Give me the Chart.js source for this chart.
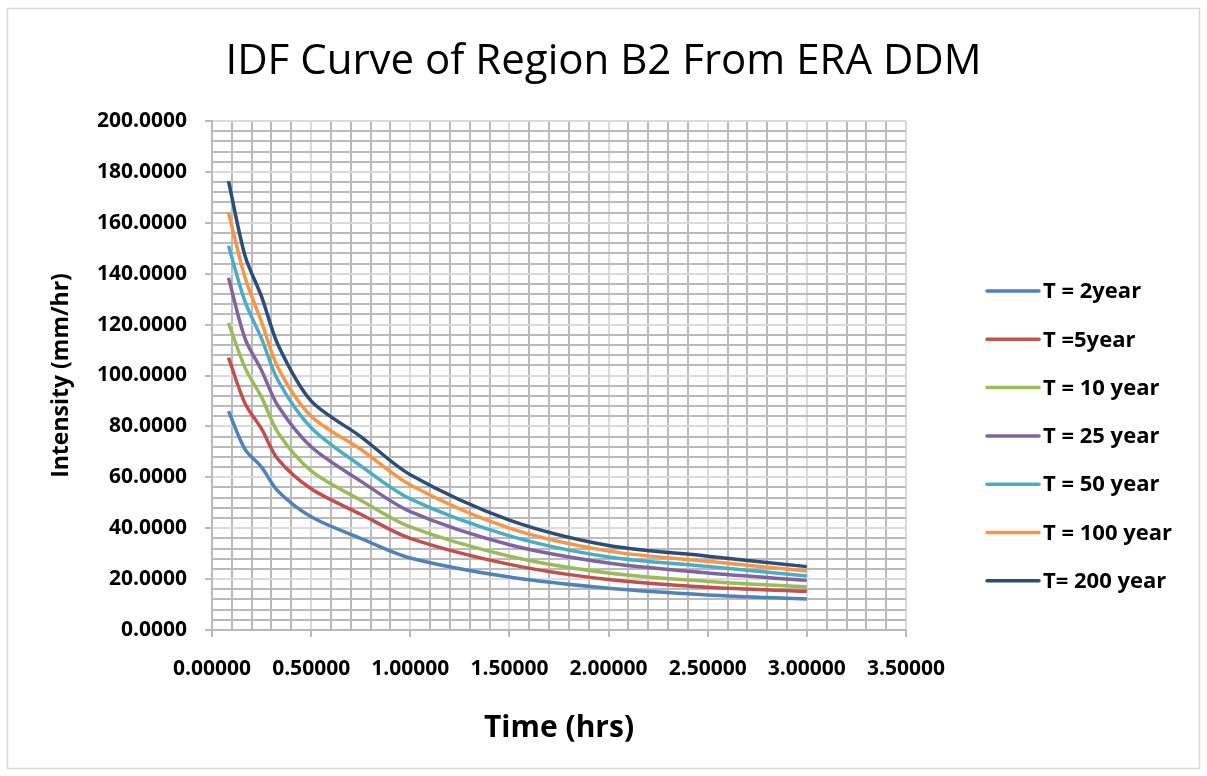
<!DOCTYPE html>
<html lang="en">
<head>
<meta charset="utf-8">
<title>IDF Curve of Region B2 From ERA DDM</title>
<script src="https://cdn.jsdelivr.net/npm/chart.js@4.4.0/dist/chart.umd.min.js"></script>
<style>
  html, body { margin: 0; padding: 0; background: #fff; }
  #contenitore { width: 1207px; height: 776px; }
</style>
</head>
<body>
<div id="contenitore"><canvas id="graficoIDF"></canvas></div>
<script>
// Durate in ore (5 min ... 3 ore)
const durate = [0.0833, 0.1667, 0.25, 0.3333, 0.5, 0.75, 1.0, 1.5, 2.0, 2.5, 3.0];

// Intensità (mm/hr) per periodo di ritorno
const intensitaT2 = [86.0, 71.0, 64.0, 54.5, 44.5, 36.0, 28.3, 20.8, 16.4, 13.8, 12.2];
const intensitaT5 = [107.0, 89.0, 79.0, 67.0, 55.5, 45.5, 36.0, 25.8, 19.8, 16.8, 15.2];
const intensitaT10 = [120.7, 103.0, 91.5, 77.5, 62.5, 51.0, 40.5, 29.0, 22.4, 19.1, 17.0];
const intensitaT25 = [138.4, 114.5, 102.0, 88.0, 72.0, 58.5, 46.5, 33.5, 26.3, 22.4, 19.5];
const intensitaT50 = [151.0, 129.0, 114.5, 98.0, 79.5, 64.5, 51.5, 37.0, 28.7, 25.0, 21.2];
const intensitaT100 = [164.0, 138.5, 121.0, 103.0, 84.0, 71.0, 57.0, 40.0, 31.0, 27.0, 23.2];
const intensitaT200 = [176.4, 147.0, 131.0, 112.0, 90.0, 76.0, 61.0, 43.2, 33.2, 29.0, 24.9];

const etichetteSerie = ['T = 2year', 'T =5year', 'T = 10 year', 'T = 25 year', 'T = 50 year', 'T = 100 year', 'T= 200 year'];
const coloriSerie = ['#4F81BD', '#C0504D', '#9BBB59', '#8064A2', '#4BACC6', '#F79646', '#2C4D75'];

// Tick principali (con etichetta); quelli secondari sono solo griglia
const tickPrincipaliX = [0, 0.5, 1.0, 1.5, 2.0, 2.5, 3.0, 3.5];
const tickPrincipaliY = [0, 20, 40, 60, 80, 100, 120, 140, 160, 180, 200];

const tutteLeSerie = [intensitaT2, intensitaT5, intensitaT10, intensitaT25, intensitaT50, intensitaT100, intensitaT200];

// Funzione per capire se un valore cade su un tick principale
function isPrincipale(valore, lista) {
    return lista.some(t => Math.abs(t - valore) < 1e-6);
}

const coloreGrigliaMinore = '#bababa';
const coloreGrigliaMaggiore = '#dadada';

// Cornice esterna e sfondo bianco
const cornice = {
    id: 'cornice',
    beforeDraw(chart) {
        const ctx = chart.ctx;
        ctx.save();
        ctx.fillStyle = '#ffffff';
        ctx.fillRect(0, 0, chart.width, chart.height);
        ctx.strokeStyle = '#d9d9d9';
        ctx.lineWidth = 1.5;
        ctx.strokeRect(7.5, 8.5, 1192, 760);
        ctx.restore();
    }
};

// Legenda a destra disegnata a mano
const legendaDestra = {
    id: 'legendaDestra',
    afterDraw(chart) {
        const ctx = chart.ctx;
        ctx.save();
        chart.data.datasets.forEach((ds, i) => {
            const y = 291 + i * 48.3;
            ctx.strokeStyle = ds.borderColor;
            ctx.lineWidth = 3.5;
            ctx.lineCap = 'round';
            ctx.beginPath();
            ctx.moveTo(987, y);
            ctx.lineTo(1039, y);
            ctx.stroke();
            ctx.fillStyle = '#000000';
            ctx.font = 'bold 22px "Open Sans"';
            ctx.textBaseline = 'middle';
            ctx.fillText(ds.label, 1043, y + 1);
        });
        ctx.restore();
    }
};

const datasets = tutteLeSerie.map((serie, i) => ({
    label: etichetteSerie[i],
    data: durate.map((d, j) => ({ x: d, y: serie[j] })),
    borderColor: coloriSerie[i],
    backgroundColor: coloriSerie[i],
    borderWidth: 3.5,
    pointRadius: 0,
    tension: 0.3,
    fill: false
}));

new Chart(document.getElementById('graficoIDF'), {
    type: 'line',
    data: { datasets: datasets },
    plugins: [cornice, legendaDestra],
    options: {
        responsive: true,
        maintainAspectRatio: false,
        animation: false,
        layout: { padding: { left: 8, right: 8, top: 8, bottom: 8 } },
        plugins: {
            legend: { display: false },
            tooltip: { enabled: false },
            title: {
                display: true,
                text: 'IDF Curve of Region B2 From ERA DDM',
                color: '#000000',
                font: { family: '"Open Sans"', size: 42, weight: 'normal', lineHeight: 1.2 },
                padding: { top: 29, bottom: 33.6 }
            }
        },
        scales: {
            x: {
                type: 'linear',
                min: 0,
                max: 3.5,
                afterFit(scale) { scale.height = 138; },
                ticks: {
                    stepSize: 0.1,
                    autoSkip: false,
                    maxRotation: 0,
                    minRotation: 0,
                    padding: 19,
                    color: '#000000',
                    font: { family: '"Open Sans"', size: 21, weight: 'bold' },
                    callback: v => isPrincipale(v, tickPrincipaliX) ? v.toFixed(5) : ''
                },
                grid: {
                    lineWidth: 2,
                    tickLength: 7,
                    color: c => isPrincipale(c.tick.value, tickPrincipaliX) ? coloreGrigliaMaggiore : coloreGrigliaMinore,
                    tickColor: c => isPrincipale(c.tick.value, tickPrincipaliX) ? coloreGrigliaMinore : 'rgba(0,0,0,0)'
                },
                border: { color: coloreGrigliaMinore, width: 2 },
                title: {
                    display: true,
                    text: 'Time (hrs)',
                    color: '#000000',
                    font: { family: '"Open Sans"', size: 30, weight: 'bold', lineHeight: 1.2 },
                    padding: { top: 0, bottom: 21.5 }
                }
            },
            y: {
                type: 'linear',
                min: 0,
                max: 200,
                afterFit(scale) { scale.width = 204; },
                ticks: {
                    stepSize: 4,
                    autoSkip: false,
                    padding: 18,
                    color: '#000000',
                    font: { family: '"Open Sans"', size: 21, weight: 'bold' },
                    callback: v => isPrincipale(v, tickPrincipaliY) ? v.toFixed(4) : ''
                },
                grid: {
                    lineWidth: 2,
                    tickLength: 7,
                    color: c => isPrincipale(c.tick.value, tickPrincipaliY) ? coloreGrigliaMaggiore : coloreGrigliaMinore,
                    tickColor: c => isPrincipale(c.tick.value, tickPrincipaliY) ? coloreGrigliaMinore : 'rgba(0,0,0,0)'
                },
                border: { color: coloreGrigliaMinore, width: 2 },
                title: {
                    display: true,
                    text: 'Intensity (mm/hr)',
                    color: '#000000',
                    font: { family: '"Open Sans"', size: 23, weight: 'bold', lineHeight: 1.2 },
                    padding: { top: 40, bottom: 0 }
                }
            },
            // spazio a destra riservato alla legenda
            spazioLegenda: {
                type: 'linear',
                position: 'right',
                afterFit(scale) { scale.width = 293; },
                ticks: { display: false },
                grid: { display: false },
                border: { display: false }
            }
        }
    }
});
</script>
</body>
</html>
